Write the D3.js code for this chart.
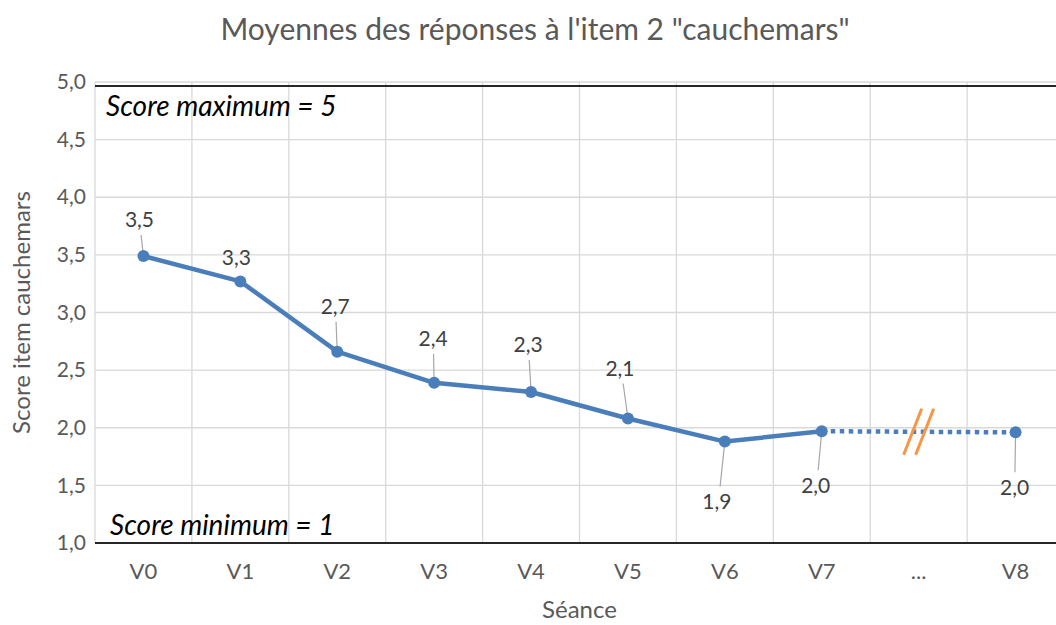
<!DOCTYPE html>
<html>
<head>
<meta charset="utf-8">
<script src="https://cdn.jsdelivr.net/npm/d3@7"></script>
<style>
  body { margin: 0; background: #fff; }
  svg text { font-family: Lato, "Noto Sans", sans-serif; fill: #595959; }
</style>
</head>
<body>
<div id="chart"></div>
<script>
// données
const categories = ["V0", "V1", "V2", "V3", "V4", "V5", "V6", "V7", "...", "V8"];
const moyennes = [3.49, 3.27, 2.66, 2.39, 2.31, 2.08, 1.88, 1.97, null, 1.96];
const yTicks = [1.0, 1.5, 2.0, 2.5, 3.0, 3.5, 4.0, 4.5, 5.0];

// placement des étiquettes (px) : [dx, dy] par rapport au point
const labelOffsets = [[-4, -36], [-4, -24], [-2, -45], [-1, -44], [-3, -47], [-8, -50], [-8, 60], [-6, 54], null, [-1, 55]];

const width = 1056, height = 625;
const margin = { top: 82, right: -8, bottom: 82, left: 95 };

const svg = d3.select("#chart").append("svg")
    .attr("width", width)
    .attr("height", height);

const x = d3.scaleBand()
    .domain(categories)
    .range([margin.left, width - margin.right])
    .padding(0);

const y = d3.scaleLinear()
    .domain([1, 5])
    .range([height - margin.bottom, margin.top]);

const fmt = d3.formatLocale({ decimal: ",", thousands: " ", grouping: [3], currency: ["", "€"] }).format(".1f");

// titre
svg.append("text")
    .attr("x", 535)
    .attr("y", 40)
    .attr("text-anchor", "middle")
    .style("font-size", "30px")
    .text("Moyennes des réponses à l'item 2 \"cauchemars\"");

// grille horizontale
svg.append("g")
    .selectAll("line")
    .data(yTicks)
    .enter()
    .append("line")
    .attr("x1", margin.left)
    .attr("x2", width)
    .attr("y1", d => y(d))
    .attr("y2", d => y(d))
    .attr("stroke", "#d9d9d9")
    .attr("stroke-width", 1.3);

// grille verticale (limites des catégories)
svg.append("g")
    .selectAll("line")
    .data(categories)
    .enter()
    .append("line")
    .attr("x1", d => x(d))
    .attr("x2", d => x(d))
    .attr("y1", y(5))
    .attr("y2", y(1))
    .attr("stroke", "#d9d9d9")
    .attr("stroke-width", 1.3);

// lignes noires min / max
svg.append("line")
    .attr("x1", margin.left).attr("x2", width)
    .attr("y1", y(5) + 4).attr("y2", y(5) + 4)
    .attr("stroke", "#262626").attr("stroke-width", 2);
svg.append("line")
    .attr("x1", margin.left).attr("x2", width)
    .attr("y1", y(1)).attr("y2", y(1))
    .attr("stroke", "#262626").attr("stroke-width", 2);

// axe Y
const yAxis = d3.axisLeft(y).tickValues(yTicks).tickFormat(fmt).tickSize(0).tickPadding(9);
const gy = svg.append("g").attr("transform", `translate(${margin.left},0)`).call(yAxis);
gy.select(".domain").remove();
gy.selectAll("text").style("font-size", "21px").attr("fill", "#595959");

// axe X
const xAxis = d3.axisBottom(x).tickSize(0).tickPadding(20);
const gx = svg.append("g").attr("transform", `translate(0,${y(1)})`).call(xAxis);
gx.select(".domain").remove();
gx.selectAll("text").style("font-size", "22px").attr("fill", "#595959");

// titres des axes
svg.append("text")
    .attr("transform", `translate(30,${(y(1) + y(5)) / 2}) rotate(-90)`)
    .attr("text-anchor", "middle")
    .style("font-size", "24px")
    .text("Score item cauchemars");

svg.append("text")
    .attr("x", (x.range()[0] + x.range()[1]) / 2)
    .attr("y", 618)
    .attr("text-anchor", "middle")
    .style("font-size", "24px")
    .text("Séance");

// annotations
svg.append("text")
    .attr("x", 106).attr("y", 116)
    .style("font-size", "28px").style("font-style", "italic")
    .style("fill", "#000")
    .text("Score maximum = 5");
svg.append("text")
    .attr("x", 110).attr("y", 535)
    .style("font-size", "28px").style("font-style", "italic")
    .style("fill", "#000")
    .text("Score minimum = 1");

// points
const pts = categories.map((c, i) => ({ cat: c, value: moyennes[i], off: labelOffsets[i] }))
    .filter(d => d.value !== null);
const cx = d => x(d.cat) + x.bandwidth() / 2;

const blue = "#4A7EBB";
const solidPts = pts.slice(0, pts.length - 1);
const dottedPts = pts.slice(pts.length - 2);

const line = d3.line().x(cx).y(d => y(d.value));

svg.append("path")
    .datum(solidPts)
    .attr("d", line)
    .attr("fill", "none")
    .attr("stroke", blue)
    .attr("stroke-width", 4.5)
    .attr("stroke-linejoin", "round");

svg.append("path")
    .datum(dottedPts)
    .attr("d", line)
    .attr("fill", "none")
    .attr("stroke", blue)
    .attr("stroke-width", 4.5)
    .attr("stroke-dasharray", "4.5,4.5");

// marque de rupture
const bx = x("...") + x.bandwidth() / 2;
const by = y((moyennes[7] + moyennes[9]) / 2);
[-6, 6].forEach(o => {
    svg.append("line")
        .attr("x1", bx + o - 9).attr("y1", by + 23)
        .attr("x2", bx + o + 9).attr("y2", by - 23)
        .attr("stroke", "#F79646")
        .attr("stroke-width", 3);
});

// traits de rappel des étiquettes
svg.append("g")
    .selectAll("line")
    .data(pts.filter(d => Math.abs(d.off[1]) > 30))
    .enter()
    .append("line")
    .attr("x1", d => cx(d))
    .attr("y1", d => y(d.value))
    .attr("x2", d => cx(d) + d.off[0] * 0.6)
    .attr("y2", d => y(d.value) + d.off[1] + (d.off[1] < 0 ? 15 : -15))
    .attr("stroke", "#a6a6a6")
    .attr("stroke-width", 1.2);

svg.append("g")
    .selectAll("circle")
    .data(pts)
    .enter()
    .append("circle")
    .attr("cx", cx)
    .attr("cy", d => y(d.value))
    .attr("r", 6)
    .attr("fill", blue);

// étiquettes de valeurs
svg.append("g")
    .selectAll("text")
    .data(pts)
    .enter()
    .append("text")
    .attr("x", d => cx(d) + d.off[0])
    .attr("y", d => y(d.value) + d.off[1])
    .attr("dy", "0.35em")
    .attr("text-anchor", "middle")
    .style("font-size", "21px")
    .style("fill", "#404040")
    .text(d => fmt(d.value));
</script>
</body>
</html>
